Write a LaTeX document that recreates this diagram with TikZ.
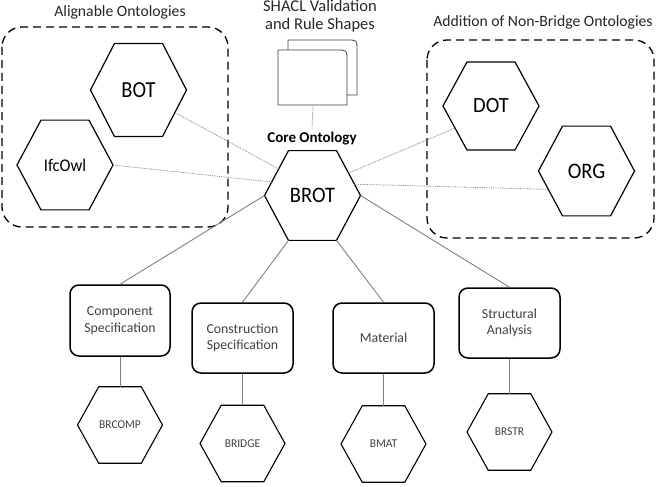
\documentclass[tikz,border=0pt]{standalone}
\usepackage{fontspec}
\setmainfont{Carlito}
\usetikzlibrary{shapes.geometric}
\definecolor{brotgray}{HTML}{404040}
\definecolor{linkgray}{HTML}{808080}

\tikzset{
  hexbig/.style={draw, line width=1.2pt, regular polygon, regular polygon sides=6, minimum size=96pt, inner sep=0pt, outer sep=0pt, yscale=#1, font=\fontsize{20.5}{24}\selectfont},
  hexbig/.default=1.08,
  hexsmall/.style={draw, line width=1.1pt, regular polygon, regular polygon sides=6, minimum size=85pt, inner sep=0pt, outer sep=0pt, yscale=1.04, text=brotgray, font=\fontsize{11.5}{14}\selectfont},
  specbox/.style={draw, line width=1.5pt, rounded corners=9pt, minimum width=101pt, minimum height=70pt, align=center, text=brotgray, font=\fontsize{13.8}{16.5}\selectfont},
  groupbox/.style={dash pattern=on 8pt off 5pt, line width=1.3pt, rounded corners=20pt},
  grouptitle/.style={text=black!85, font=\fontsize{15.7}{18}\selectfont},
  ontolink/.style={linkgray, line width=0.8pt, densely dotted},
  speclink/.style={linkgray, line width=0.9pt},
}

\begin{document}
\begin{tikzpicture}[x=1pt,y=-1pt]
\useasboundingbox (0,0) rectangle (656,487);
% ontology groups
\draw[groupbox] (2,27) rectangle (228,227);
\draw[groupbox] (427,40) rectangle (654,238);
\node[grouptitle] (alignt) at (120,12) {Alignable Ontologies};
\node[grouptitle] (addt) at (543,22) {Addition of Non-Bridge Ontologies};
% shapes documents
\filldraw[fill=white, draw=black!75, line width=0.8pt] (288,95) -- (288,40) -- (347,40) .. controls (357,40) .. (357,50) -- (357,95) -- cycle;
\filldraw[fill=white, draw=black!75, line width=0.8pt] (278,105) -- (278,50) -- (337,50) .. controls (347,50) .. (347,60) -- (347,105) -- cycle;
\coordinate (shacl) at (313,105);
\node[grouptitle, align=center, font=\fontsize{16.5}{18}\selectfont] (shacltitle) at (320,16) {SHACL Validation\\and Rule Shapes};
% core
\node[font=\bfseries\fontsize{15}{17}\selectfont] (core) at (312,139) {Core Ontology};
\node[hexbig] (brot) at (312.5,195.5) {BROT};
\node[hexbig=1.12] (bot) at (138.5,90) {BOT};
\node[hexbig, font=\fontsize{16.5}{19}\selectfont] (ifcowl) at (65,165) {IfcOwl};
\node[hexbig=1.06] (dot) at (491,106) {DOT};
\node[hexbig] (org) at (586.5,171) {ORG};
\draw[ontolink] (shacl) -- (core.north);
\draw[ontolink] (brot.144) -- (bot.331);
\draw[ontolink] (brot.163) -- (ifcowl.0);
\draw[ontolink] (brot.30) -- (dot.210);
\draw[ontolink] (brot.14) -- (org.204);
% modules
\node[specbox, minimum width=100pt, minimum height=71pt] (comp) at (120,320.5) {Component\\Specification};
\node[specbox] (constr) at (242.5,338) {Construction\\Specification};
\node[specbox] (mat) at (383.5,338) {Material};
\node[specbox] (struct) at (509.5,323) {Structural\\Analysis};
\node[hexsmall] (brcomp) at (120,425) {BRCOMP};
\node[hexsmall] (bridge) at (242.5,443.5) {BRIDGE};
\node[hexsmall] (bmat) at (383.5,444) {BMAT};
\node[hexsmall] (brstr) at (509.5,432) {BRSTR};
\draw[speclink] (brot.180) -- (comp.north);
\draw[speclink] (brot.240) -- (constr.north);
\draw[speclink] (brot.300) -- (mat.north);
\draw[speclink] (brot.0) -- (struct.north);
\draw[speclink] (comp.south) -- (brcomp.90);
\draw[speclink] (constr.south) -- (bridge.90);
\draw[speclink] (mat.south) -- (bmat.90);
\draw[speclink] (struct.south) -- (brstr.90);
\end{tikzpicture}
\end{document}
